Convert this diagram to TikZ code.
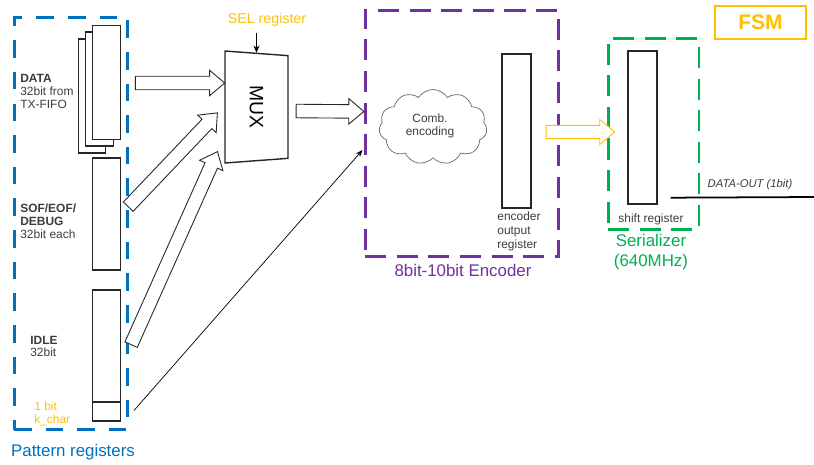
\documentclass[tikz,border=0pt]{standalone}
\usepackage{fontspec}
\setmainfont{Liberation Sans}
\usetikzlibrary{shapes.geometric,shapes.symbols,shapes.arrows,arrows.meta,calc,positioning}

\definecolor{patblue}{RGB}{0,112,192}
\definecolor{encpurple}{RGB}{112,48,160}
\definecolor{sergreen}{RGB}{0,176,80}
\definecolor{fsmorange}{RGB}{255,192,0}
\definecolor{txtgray}{RGB}{60,60,60}

\tikzset{
  reg/.style={shape=rectangle, draw=black!85, line width=0.8pt, fill=white, minimum width=0.55cm, inner sep=0pt},
  blockbox/.style={shape=rectangle, draw=#1, line width=1.7pt, dash pattern=on 12pt off 6pt, minimum width=1cm, inner sep=0pt},
  lbl/.style={font=\fontsize{6.8}{7.3}\selectfont, text=txtgray, align=left, inner sep=0pt},
  title/.style={font=\fontsize{9.6}{11.2}\selectfont, text=#1, align=center, inner sep=0pt},
  fatarrow/.style={single arrow, draw=black!85, fill=white, line width=0.5pt, inner sep=3.6pt,
    single arrow head extend=3.4pt, single arrow tip angle=80}
}

\newcommand{\fatarrow}[3][]{%
  \path let \p1=#2, \p2=#3, \n1={atan2(\y2-\y1,\x2-\x1)}, \n2={veclen(\x2-\x1,\y2-\y1)} in
    node[fatarrow, #1, minimum height=\n2, rotate=\n1, anchor=tail] at (\p1) {};}

\begin{document}
\begin{tikzpicture}[x=0.02cm, y=-0.02cm]
  \useasboundingbox (0,0) rectangle (814,464);

  \node (patbox)[blockbox=patblue, dash pattern=on 10pt off 8pt, minimum width=2.28cm, minimum height=8.26cm] at (71,223.5) {};
  \node (encbox)[blockbox=encpurple, minimum width=3.88cm, minimum height=4.94cm] at (462,133.5) {};
  \node (serbox)[blockbox=sergreen, minimum width=1.82cm, minimum height=3.84cm] at (653.5,134) {};

  \node (dataB)[reg, minimum height=2.28cm] at (92,96) {};
  \node (dataM)[reg, minimum height=2.28cm] at (99.5,89) {};
  \node (dataF)[reg, minimum height=2.28cm] at (106.5,82.5) {};
  \node (sof)[reg, minimum height=2.24cm] at (106.5,214) {};
  \node (idle)[reg, minimum height=2.24cm] at (106.5,346) {};
  \node (kbit)[reg, minimum height=0.38cm] at (106.5,411.5) {};

  \node (datalbl)[lbl, anchor=west] at (20,91.5) {\textbf{DATA}\\32bit from\\TX-FIFO};
  \node (soflbl)[lbl, anchor=west] at (20,221) {\textbf{SOF/EOF/}\\\textbf{DEBUG}\\32bit each};
  \node (idlelbl)[lbl, anchor=west] at (30,346.5) {\textbf{IDLE}\\32bit};
  \node (klbl)[lbl, anchor=west, text=fsmorange] at (34,414) {1 bit\\k\_char};
  \node (patlbl)[title=patblue] at (73,452) {Pattern registers};

  \node (mux)[trapezium, draw=black!85, line width=0.8pt, trapezium left angle=71, trapezium right angle=71,
    trapezium stretches body, minimum width=2.24cm, minimum height=1.26cm, rotate=-90, inner sep=0pt,
    font=\fontsize{11}{12}\selectfont] at (256.5,107) {MUX};
  \node (sel)[font=\fontsize{8.1}{9}\selectfont, text=fsmorange, inner sep=0pt] at (267,20) {SEL register};
  \coordinate (selin) at ($(mux.bottom left corner)!0.5!(mux.top left corner)$);
  \draw[line width=0.8pt, -{Stealth[length=4pt,width=3.5pt]}] ($(sel.south -| selin)+(0,6)$) -- (selin);

  \node (cloud)[cloud, draw=black!60, cloud puffs=11, cloud puff arc=115, aspect=1.5,
    minimum width=2.16cm, minimum height=1.5cm, inner sep=0pt] at (433,127) {};
  \node (cloudlbl)[lbl, align=center] at (430,126) {Comb.\\encoding};
  \node (encreg)[reg, minimum width=0.58cm, minimum height=3.08cm] at (516.5,131) {};
  \node (encreglbl)[lbl, anchor=north west, font=\fontsize{6.8}{8.2}\selectfont] at (497,211) {encoder\\output\\register};
  \node (enclbl)[title=encpurple] at (463,270) {8bit-10bit Encoder};

  \node (sreg)[reg, minimum width=0.58cm, minimum height=3.06cm] at (642.5,127.5) {};
  \node (sreglbl)[lbl] at (651,219) {shift register};
  \node (serlbl)[title=sergreen] at (651,252) {Serializer\\(640MHz)};

  \node (fsm)[shape=rectangle, draw=fsmorange, line width=1.1pt, minimum width=1.82cm, minimum height=0.66cm,
    font=\bfseries\fontsize{12}{13}\selectfont, text=fsmorange] at (760.5,22.5) {FSM};

  \fatarrow{($(dataF.east)+(14,0.5)$)}{($(mux.south)+(0,-24)$)}
  \fatarrow{($(sof.east)+(7,-7)$)}{($(mux.south)+(-7,6)$)}
  \fatarrow{($(idle.east)+(10,-1)$)}{($(mux.south)+(-7,45)$)}
  \fatarrow{($(mux.north)+(7,4)$)}{($(encbox.west)+(0,-22)$)}
  \fatarrow[draw=fsmorange, inner sep=3.5pt]{($(encreg.east)+(14,1)$)}{($(sreg.west)+(-13,4.5)$)}

  \draw[line width=0.4pt, -{Stealth[length=4pt,width=3pt]}] ($(kbit.east)+(13,-1)$) -- ($(encbox.west)+(-1,16.5)$);

  \coordinate (dout) at (814,197);
  \draw[line width=1pt] ($(sreg.south east)+(13,-7)$) -- (dout);
  \node (doutlbl)[lbl, font=\itshape\fontsize{6.4}{7}\selectfont] at (750,185) {DATA-OUT (1bit)};
\end{tikzpicture}
\end{document}
